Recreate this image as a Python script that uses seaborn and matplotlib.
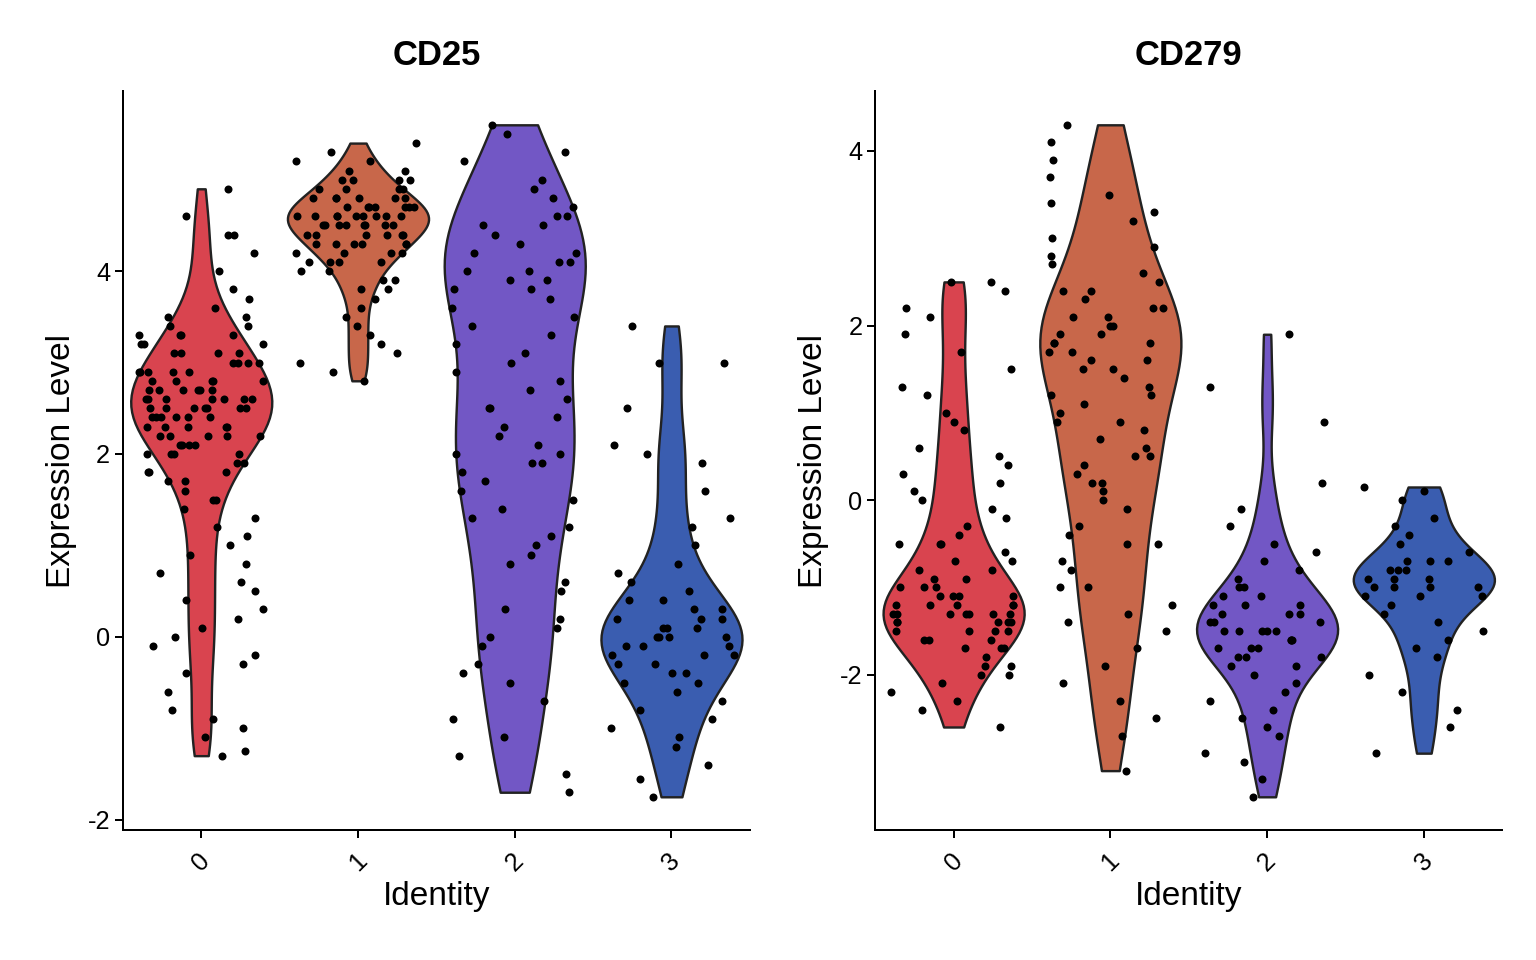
import matplotlib
matplotlib.use('Agg')
import matplotlib.pyplot as plt
import seaborn as sns
import pandas as pd

sns.set_theme(style="ticks")
plt.rcParams['font.family'] = ['Liberation Sans', 'DejaVu Sans']
plt.rcParams['axes.unicode_minus'] = False

identities = ["0", "1", "2", "3"]
colors = ["#D9444F", "#C8674A", "#7257C5", "#3A5DB0"]

cd25_0 = [4.9,4.6,4.4,4.4,4.2,4.0,3.8,3.7,3.6,3.5,3.5,3.4,3.4,3.3,3.3,3.3,3.2,3.2,3.1,3.1,3.1,3.0,3.0,3.0,
          2.9,2.9,2.9,2.9,2.8,2.8,2.8,2.8,2.7,2.7,2.7,2.7,2.6,2.6,2.6,2.6,2.6,2.5,2.5,2.5,2.5,2.5,2.4,2.4,
          2.4,2.4,2.3,2.3,2.3,2.3,2.2,2.2,2.2,2.1,2.1,2.1,2.0,2.0,2.0,1.9,1.9,1.8,1.8,1.7,1.7,1.6,1.5,1.5,
          1.4,1.3,1.2,1.1,1.0,0.9,0.8,0.7,0.6,0.5,0.4,0.3,0.2,0.1,0.0,-0.1,-0.2,-0.3,-0.4,-0.6,-0.8,-0.9,
          -1.0,-1.1,-1.25,-1.3,
          3.0,2.8,2.7,2.6,2.5,2.4,2.3,2.9,2.2,2.6,3.2,2.1,2.0,1.8,2.5,2.7,3.1,3.3,2.4,2.2]
cd25_1 = [5.4,5.3,5.2,5.2,5.1,5.1,5.0,5.0,5.0,4.9,4.9,4.9,4.8,4.8,4.8,4.8,4.7,4.7,4.7,4.7,4.6,4.6,4.6,4.6,
          4.6,4.5,4.5,4.5,4.5,4.5,4.4,4.4,4.4,4.4,4.3,4.3,4.3,4.3,4.2,4.2,4.2,4.1,4.1,4.1,4.0,4.0,3.9,3.9,
          3.8,3.8,3.7,3.6,3.5,3.4,3.3,3.2,3.1,3.0,2.9,2.8,
          4.7,4.6,4.5,4.8,4.4,4.9,4.3,4.6,4.5,4.7,4.2,4.4,5.0,4.6,4.8,4.1,4.5,4.3,4.7,4.6]
cd25_2 = [5.6,5.5,5.3,5.2,5.0,4.9,4.8,4.7,4.6,4.6,4.5,4.5,4.4,4.3,4.2,4.2,4.1,4.1,4.0,4.0,3.9,3.9,3.8,3.8,
          3.7,3.6,3.5,3.4,3.3,3.2,3.1,3.0,2.9,2.8,2.7,2.6,2.5,2.5,2.4,2.3,2.2,2.1,2.0,2.0,1.9,1.9,1.8,1.7,
          1.6,1.5,1.4,1.3,1.2,1.1,1.0,0.9,0.8,0.6,0.5,0.3,0.2,0.1,0.0,-0.1,-0.3,-0.4,-0.5,-0.7,-0.9,-1.1,
          -1.3,-1.5,-1.7]
cd25_3 = [3.4,3.0,3.0,2.5,2.1,2.0,1.9,1.6,1.3,1.2,1.0,0.8,0.7,0.6,0.5,0.4,0.4,0.3,0.3,0.2,0.2,0.2,0.1,0.1,
          0.1,0.0,0.0,0.0,0.0,-0.1,-0.1,-0.1,-0.2,-0.2,-0.2,-0.3,-0.3,-0.4,-0.4,-0.5,-0.5,-0.6,-0.7,-0.8,
          -0.9,-1.0,-1.1,-1.2,-1.4,-1.55,-1.75]

cd279_0 = [2.5,2.5,2.4,2.2,2.1,1.9,1.7,1.5,1.3,1.2,1.0,0.9,0.8,0.6,0.5,0.4,0.3,0.2,0.1,0.0,-0.1,-0.2,-0.3,
           -0.4,-0.5,-0.5,-0.6,-0.7,-0.7,-0.8,-0.9,-0.9,-1.0,-1.0,-1.1,-1.1,-1.2,-1.2,-1.2,-1.3,-1.3,-1.3,
           -1.3,-1.4,-1.4,-1.4,-1.5,-1.5,-1.5,-1.6,-1.6,-1.7,-1.7,-1.8,-1.9,-2.0,-2.0,-2.1,-2.2,-2.3,-2.4,-2.6,
           -1.2,-1.3,-1.4,-1.1,-1.5,-1.3,-1.0,-1.6,-1.2,-1.4,-0.8,-1.7,-1.3,-0.5,-1.9,-1.1]
cd279_1 = [4.3,4.1,3.9,3.7,3.5,3.4,3.3,3.2,3.0,2.9,2.8,2.7,2.6,2.5,2.4,2.3,2.2,2.1,2.0,2.0,1.9,1.8,1.8,1.7,
           1.6,1.5,1.4,1.3,1.2,1.1,1.0,0.9,0.8,0.7,0.6,0.5,0.4,0.3,0.2,0.1,0.0,-0.1,-0.3,-0.4,-0.5,-0.7,
           -0.8,-1.0,-1.2,-1.3,-1.5,-1.7,-1.9,-2.1,-2.3,-2.5,-2.7,-3.1,
           1.9,2.2,1.5,1.7,2.1,1.2,0.9,2.4,1.6,1.8,0.5,-0.5,-1.0,-1.4,0.2]
cd279_2 = [1.9,1.3,0.9,0.2,-0.1,-0.3,-0.5,-0.6,-0.7,-0.8,-0.9,-1.0,-1.0,-1.1,-1.2,-1.2,-1.3,-1.3,-1.4,-1.4,
           -1.5,-1.5,-1.5,-1.6,-1.6,-1.7,-1.7,-1.8,-1.8,-1.9,-2.0,-2.1,-2.2,-2.3,-2.4,-2.5,-2.6,-2.7,-2.9,
           -3.0,-3.2,-3.4,
           -1.4,-1.5,-1.6,-1.3,-1.7,-1.2,-1.8,-1.5,-1.1,-1.9]
cd279_3 = [0.15,0.1,0.0,-0.2,-0.3,-0.4,-0.5,-0.6,-0.7,-0.7,-0.8,-0.8,-0.9,-0.9,-1.0,-1.0,-1.0,-1.1,-1.1,
           -1.2,-1.3,-1.4,-1.5,-1.6,-1.7,-1.8,-2.0,-2.2,-2.4,-2.6,-2.9,
           -0.9,-1.0,-0.8,-1.1,-0.7]

panels = [("CD25", [cd25_0, cd25_1, cd25_2, cd25_3], [-2, 0, 2, 4]),
          ("CD279", [cd279_0, cd279_1, cd279_2, cd279_3], [-2, 0, 2, 4])]

fig, axes = plt.subplots(1, 2, figsize=(16, 10), dpi=96)
for ax, (title, groups, yticks) in zip(axes, panels):
    rows = [(ident, v) for ident, vals in zip(identities, groups) for v in vals]
    df = pd.DataFrame(rows, columns=["Identity", "Expression Level"])
    sns.violinplot(data=df, x="Identity", y="Expression Level", hue="Identity", order=identities,
                   palette=colors, cut=0, density_norm="width", inner=None, linewidth=1.8,
                   linecolor="#222222", width=0.9, bw_adjust=0.7, legend=False, ax=ax, saturation=1)
    sns.stripplot(data=df, x="Identity", y="Expression Level", order=identities, color="black",
                  size=6, jitter=0.4, ax=ax)
    ax.set_title(title, fontsize=26, fontweight="bold", pad=20, color="black")
    ax.set_yticks(yticks)
    ax.tick_params(axis="both", labelsize=19, width=1.5, length=6, colors="black")
    ax.tick_params(axis="x", labelrotation=45, pad=8)
    ax.set_xlabel("Identity", fontsize=25, color="black", labelpad=4)
    ax.set_ylabel("Expression Level", fontsize=25, color="black", labelpad=8)
    sns.despine(ax=ax)
    for s in ("left", "bottom"):
        ax.spines[s].set_linewidth(1.5)
        ax.spines[s].set_color("black")

plt.subplots_adjust(left=0.08, right=0.978, top=0.905, bottom=0.135, wspace=0.2)
fig.savefig("out.png", dpi=96)
